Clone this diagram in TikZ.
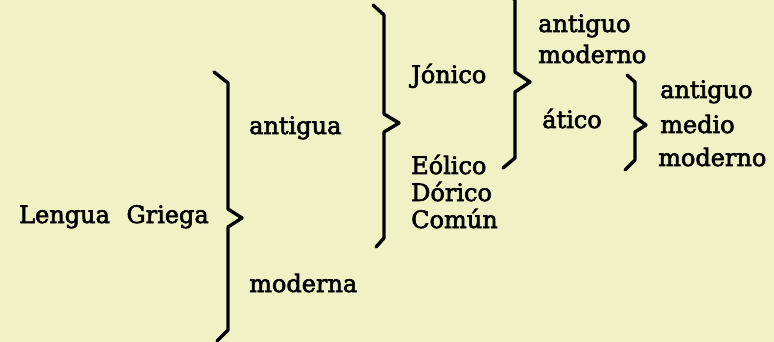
\documentclass[tikz,border=0pt]{standalone}
\usepackage{fontspec}
\setmainfont{DejaVu Serif}[FakeBold=2.5]
\definecolor{paper}{RGB}{240,241,197}
\begin{document}
\begin{tikzpicture}[x=1pt,y=-1pt,
    lbl/.style={anchor=base west,inner sep=0pt,font=\fontsize{24}{28}\selectfont},
    curly/.style={line width=3.4pt,line join=round,line cap=round}]
  \fill[paper] (0,0) rectangle (774,342);
  \useasboundingbox (0,0) rectangle (774,342);
  \draw
    (19,223) node[lbl] (lengua){Lengua\hspace{9pt} Griega}
    (249,134) node[lbl] (antigua){antigua}
    (249,292) node[lbl] (moderna){moderna}
    (411,83) node[lbl] (jonico){Jónico}
    (411,174) node[lbl] (eolico){Eólico}
    (411,201) node[lbl] (dorico){Dórico}
    (411,228) node[lbl] (comun){Común}
    (538,32) node[lbl] (jantiguo){antiguo}
    (538,63) node[lbl] (jmoderno){moderno}
    (542,128) node[lbl] (atico){ático}
    (660,98) node[lbl] (aantiguo){antiguo}
    (660,133) node[lbl] (amedio){medio}
    (658,166) node[lbl] (amoderno){moderno};
  % brace ends and tips
  \coordinate (b1top) at (214,72);
  \coordinate (b1tip) at (242,218);
  \coordinate (b1bot) at (217,341);
  \coordinate (b2top) at (373,5);
  \coordinate (b2tip) at (399,123);
  \coordinate (b2bot) at (376,247);
  \coordinate (b3top) at (506,-8);
  \coordinate (b3tip) at (530,82);
  \coordinate (b3bot) at (503,168);
  \coordinate (b4top) at (627,75);
  \coordinate (b4tip) at (646,125);
  \coordinate (b4bot) at (625,170);
  \begin{scope}[curly]
    \draw (b1top) -- ++(14,11) -- ++(0,126) -- (b1tip) -- ++(-14,9) -- ++(0,103) -- (b1bot);
    \draw (b2top) -- ++(11,10) -- ++(0,99) -- (b2tip) -- ++(-15,9) -- ++(0,106) -- (b2bot);
    \draw (b3top) -- ++(9,8) -- ++(0,72) -- (b3tip) -- ++(-15,10) -- ++(0,66) -- (b3bot);
    \draw (b4top) -- ++(8,7) -- ++(0,35) -- (b4tip) -- ++(-11,7) -- ++(0,28) -- (b4bot);
  \end{scope}
\end{tikzpicture}
\end{document}
